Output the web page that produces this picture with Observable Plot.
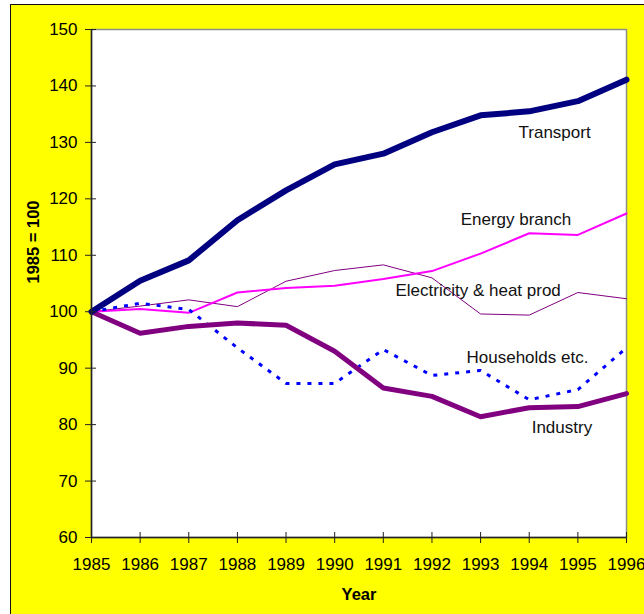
<!DOCTYPE html>
<html>
<head>
<meta charset="utf-8">
<script src="https://cdn.jsdelivr.net/npm/d3@7"></script>
<script src="https://cdn.jsdelivr.net/npm/@observablehq/plot@0.6"></script>
<style>
  html, body { margin: 0; padding: 0; background: #ffffff; }
  #wrap { position: relative; width: 644px; height: 614px; overflow: hidden; background: #ffffff; }
  #panel { position: absolute; left: 10px; top: 4px; width: 640px; height: 620px;
           background: #ffff00; border-left: 1.5px solid #111; border-top: 1.5px solid #111; }
  #chart { position: absolute; left: 0; top: 0; }
</style>
</head>
<body>
<div id="wrap"><div id="panel"></div><div id="chart"></div></div>
<script>
const years = [1985, 1986, 1987, 1988, 1989, 1990, 1991, 1992, 1993, 1994, 1995, 1996];
const transport   = [100, 105.5, 109.1, 116.2, 121.5, 126.1, 128.0, 131.8, 134.8, 135.5, 137.3, 141.1];
const energy      = [100, 100.5, 99.8, 103.4, 104.2, 104.6, 105.8, 107.2, 110.3, 113.9, 113.6, 117.4];
const electricity = [100, 101.0, 102.1, 100.9, 105.4, 107.3, 108.3, 106.0, 99.6, 99.4, 103.4, 102.3];
const households  = [100, 101.5, 100.4, 93.6, 87.3, 87.3, 93.3, 88.7, 89.6, 84.4, 86.2, 93.6];
const industry    = [100, 96.2, 97.4, 98.0, 97.6, 93.0, 86.5, 85.0, 81.4, 83.0, 83.2, 85.5];

const yTicks = [60, 70, 80, 90, 100, 110, 120, 130, 140, 150];

const labelNames  = ["Transport", "Energy branch", "Electricity & heat prod", "Households etc.", "Industry"];
const labelYears  = [1993.78, 1992.59, 1991.25, 1992.71, 1994.05];
const labelValues = [131.8, 116.3, 103.8, 91.9, 79.5];

const rows = (vals) => years.map((y, i) => ({year: y, value: vals[i]}));
const labels = labelNames.map((t, i) => ({text: t, year: labelYears[i], value: labelValues[i]}));

const font = "'Liberation Sans', Arial, sans-serif";

const chart = Plot.plot({
  width: 644,
  height: 614,
  marginLeft: 91,
  marginRight: 18,
  marginTop: 29,
  marginBottom: 77,
  style: {background: "transparent", fontFamily: font, fontSize: "17px", color: "#000", overflow: "visible"},
  x: {domain: [1985, 1996], ticks: years, tickFormat: "d", label: null},
  y: {domain: [60, 150], ticks: yTicks, label: null},
  marks: [
    Plot.frame({fill: "white", stroke: "#8c8c8c", strokeWidth: 1.5}),
    Plot.line(rows(electricity), {x: "year", y: "value", stroke: "#800080", strokeWidth: 1}),
    Plot.line(rows(energy), {x: "year", y: "value", stroke: "#ff00ff", strokeWidth: 2}),
    Plot.line(rows(households), {x: "year", y: "value", stroke: "#0000ff", strokeWidth: 3, strokeDasharray: "4,7", strokeLinecap: "butt"}),
    Plot.line(rows(industry), {x: "year", y: "value", stroke: "#800080", strokeWidth: 5}),
    Plot.line(rows(transport), {x: "year", y: "value", stroke: "#000080", strokeWidth: 6}),
    Plot.ruleX([1985], {stroke: "#222", strokeWidth: 1.5}),
    Plot.ruleY([60], {stroke: "#222", strokeWidth: 1.5}),
    Plot.axisX({ticks: years, tickSize: 11, dy: -5, tickFormat: () => "", label: null, stroke: "#222"}),
    Plot.axisX({ticks: years, tickSize: 0, tickPadding: 20, tickFormat: "d", label: null, fill: "#000", fontSize: 17}),
    Plot.axisY({ticks: yTicks, tickSize: 11, dx: 5, tickFormat: () => "", label: null, stroke: "#222"}),
    Plot.axisY({ticks: yTicks, tickSize: 0, tickPadding: 14, label: null, fill: "#000", fontSize: 17}),
    Plot.text(labels, {x: "year", y: "value", text: "text", textAnchor: "start", lineAnchor: "middle", fill: "#111", fontSize: 17}),
    Plot.text(["1985 = 100"], {frameAnchor: "left", rotate: -90, dx: -58, fontWeight: "bold", fontSize: 16.5, fill: "#000"}),
    Plot.text(["Year"], {frameAnchor: "bottom", dy: 57, lineAnchor: "middle", fontWeight: "bold", fontSize: 16.5, fill: "#000"})
  ]
});
document.getElementById("chart").appendChild(chart);
</script>
</body>
</html>
